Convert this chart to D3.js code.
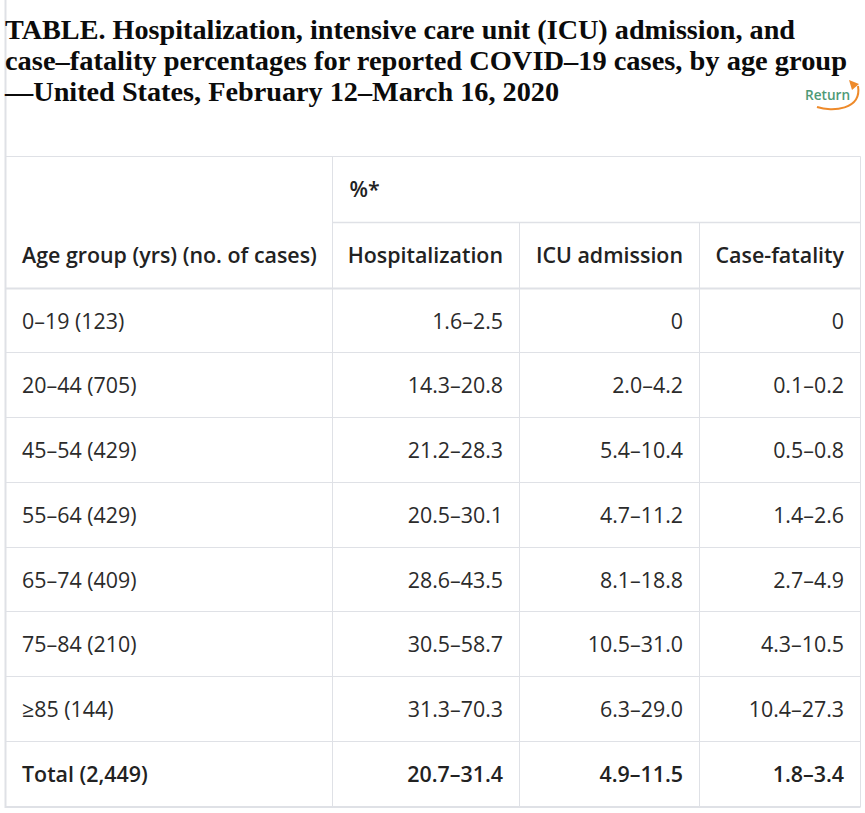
<!DOCTYPE html>
<html>
<head>
<meta charset="utf-8">
<script src="https://cdn.jsdelivr.net/npm/d3@7"></script>
<style>
html, body { margin: 0; padding: 0; background: #fff; }
svg { display: block; }
.cell { font-family: "Open Sans", sans-serif; font-size: 21.4px; fill: #2b2b2b; }
.head { font-weight: 600; fill: #222; }
.title { font-family: "Liberation Serif", serif; font-weight: 700; font-size: 28px; fill: #0b0b0b; }
</style>
</head>
<body>
<svg width="865" height="813"></svg>
<script>
var title_lines = [
    "TABLE. Hospitalization, intensive care unit (ICU) admission, and",
    "case\u2013fatality percentages for reported COVID\u201319 cases, by age group",
    "\u2014United States, February 12\u2013March 16, 2020"
];
var title_widths = [790, 842, 554];

var age_groups = ["0\u201319 (123)", "20\u201344 (705)", "45\u201354 (429)", "55\u201364 (429)", "65\u201374 (409)", "75\u201384 (210)", "\u226585 (144)", "Total (2,449)"];
var hospitalization = ["1.6\u20132.5", "14.3\u201320.8", "21.2\u201328.3", "20.5\u201330.1", "28.6\u201343.5", "30.5\u201358.7", "31.3\u201370.3", "20.7\u201331.4"];
var icu_admission = ["0", "2.0\u20134.2", "5.4\u201310.4", "4.7\u201311.2", "8.1\u201318.8", "10.5\u201331.0", "6.3\u201329.0", "4.9\u201311.5"];
var case_fatality = ["0", "0.1\u20130.2", "0.5\u20130.8", "1.4\u20132.6", "2.7\u20134.9", "4.3\u201310.5", "10.4\u201327.3", "1.8\u20133.4"];

var columns = ["Age group (yrs) (no. of cases)", "Hospitalization", "ICU admission", "Case-fatality"];
var column_values = [age_groups, hospitalization, icu_admission, case_fatality];
var percent_label = "%*";
var return_label = "Return";

var border = "#dfe1e6";
var svg = d3.select("svg");

// column edges, left to right
const xedge = d3.scaleOrdinal().domain(d3.range(5)).range([5.5, 332.5, 519.5, 699.5, 860.5]);
// row edges: the first two are the header rows, the rest body rows
const yedge = d3.scaleOrdinal().domain(d3.range(11)).range([156.5, 222.5, 288.5, 352.5, 417.5, 482.5, 547.5, 611.5, 676.5, 741.5, 807]);

function hline(row, from, to, w) {
    svg.append("line")
        .attr("x1", xedge(from)).attr("x2", xedge(to))
        .attr("y1", yedge(row)).attr("y2", yedge(row))
        .attr("stroke", border).attr("stroke-width", w);
}
function vline(col, from, to, w) {
    svg.append("line")
        .attr("x1", xedge(col)).attr("x2", xedge(col))
        .attr("y1", from).attr("y2", to)
        .attr("stroke", border).attr("stroke-width", w);
}

// outer left line runs up to the top of the page
vline(0, 0, yedge(10) + 1, 2);
vline(1, yedge(0), yedge(10), 1);
vline(2, yedge(1), yedge(10), 1);
vline(3, yedge(1), yedge(10), 1);
vline(4, yedge(0), yedge(10), 1);

hline(0, 0, 4, 1);
hline(1, 1, 4, 1.5);
hline(2, 0, 4, 2);
d3.range(3, 10).forEach(function (r) { hline(r, 0, 4, 1); });
hline(10, 0, 4, 2);

svg.selectAll(".title").data(title_lines).enter().append("text")
    .attr("class", "title")
    .attr("x", 5)
    .attr("y", function (d, i) { return 39 + i * 31; })
    .attr("textLength", function (d, i) { return title_widths[i]; })
    .attr("lengthAdjust", "spacingAndGlyphs")
    .text(function (d) { return d; });

// header
svg.append("text").attr("class", "cell head")
    .attr("x", xedge(1) + 17).attr("y", 197)
    .text(percent_label);

columns.forEach(function (label, c) {
    svg.append("text").attr("class", "cell head")
        .attr("x", c == 0 ? xedge(0) + 16.5 : xedge(c + 1) - 16.5)
        .attr("y", 263)
        .attr("text-anchor", c == 0 ? "start" : "end")
        .text(label);
});

// body
column_values.forEach(function (values, c) {
    svg.selectAll(".col" + c).data(values).enter().append("text")
        .attr("class", function (d, i) { return "cell col" + c + (i == values.length - 1 ? " head" : ""); })
        .attr("x", c == 0 ? xedge(0) + 16.5 : xedge(c + 1) - 16.5)
        .attr("y", function (d, i) { return (yedge(i + 2) + yedge(i + 3)) / 2 + 8; })
        .attr("text-anchor", c == 0 ? "start" : "end")
        .text(function (d) { return d; });
});

// return badge
var badge = svg.append("g");
badge.append("text")
    .attr("x", 805).attr("y", 100)
    .attr("font-family", "Open Sans, sans-serif").attr("font-size", 13.6).attr("font-weight", 600)
    .attr("fill", "#4e9a76")
    .text(return_label);
badge.append("path")
    .attr("d", "M817,107 C832,112 862,110 858,86")
    .attr("fill", "none").attr("stroke", "#ee8a2a").attr("stroke-width", 2);
badge.append("path")
    .attr("d", "M849,80 L859,84 L852,90 Z")
    .attr("fill", "#ee8a2a");
</script>
</body>
</html>
